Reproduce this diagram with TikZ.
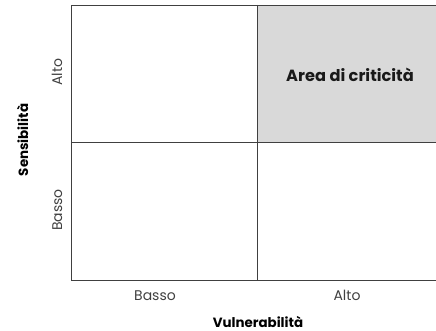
\documentclass[tikz,border=0pt]{standalone}
\usepackage{fontspec}
\setmainfont{Poppins}
\begin{document}
\begin{tikzpicture}[x=1pt,y=-1pt,
  gridline/.style={draw=black!75,line width=0.9pt},
  lab/.style={font=\fontsize{14}{16}\selectfont,text=black!75},
  title/.style={font=\bfseries\fontsize{13.4}{16}\selectfont,text=black},
  area/.style={font=\bfseries\fontsize{16.2}{19}\selectfont,text=black!90}]
\useasboundingbox (0,0) rectangle (436,331);
\fill[fill={rgb,255:red,217;green,217;blue,217}] (257,5) rectangle (437,142.5);
\coordinate (tl) at (71,5);
\coordinate (tr) at (437,5);
\coordinate (bl) at (71,280);
\coordinate (br) at (437,280);
\coordinate (mt) at (257,5);
\coordinate (mb) at (257,280);
\coordinate (ml) at (71,142.5);
\coordinate (mr) at (437,142.5);
\draw[gridline] (tr) -- (tl) -- (bl) -- (br);
\draw[gridline] (mt) -- (mb);
\draw[gridline] (ml) -- (mr);
\node[area] (crit) at (350,75) {Area di criticità};
\node[lab,rotate=90,anchor=base] (salto) at (62,72) {Alto};
\node[lab,rotate=90,anchor=base] (sbasso) at (62,210) {Basso};
\node[title,rotate=90,anchor=base] (sens) at (28,140) {Sensibilità};
\node[lab,anchor=base] (vbasso) at (155,300) {Basso};
\node[lab,anchor=base] (valto) at (347,300) {Alto};
\node[title,anchor=base] (vuln) at (258,327) {Vulnerabilità};
\end{tikzpicture}
\end{document}
